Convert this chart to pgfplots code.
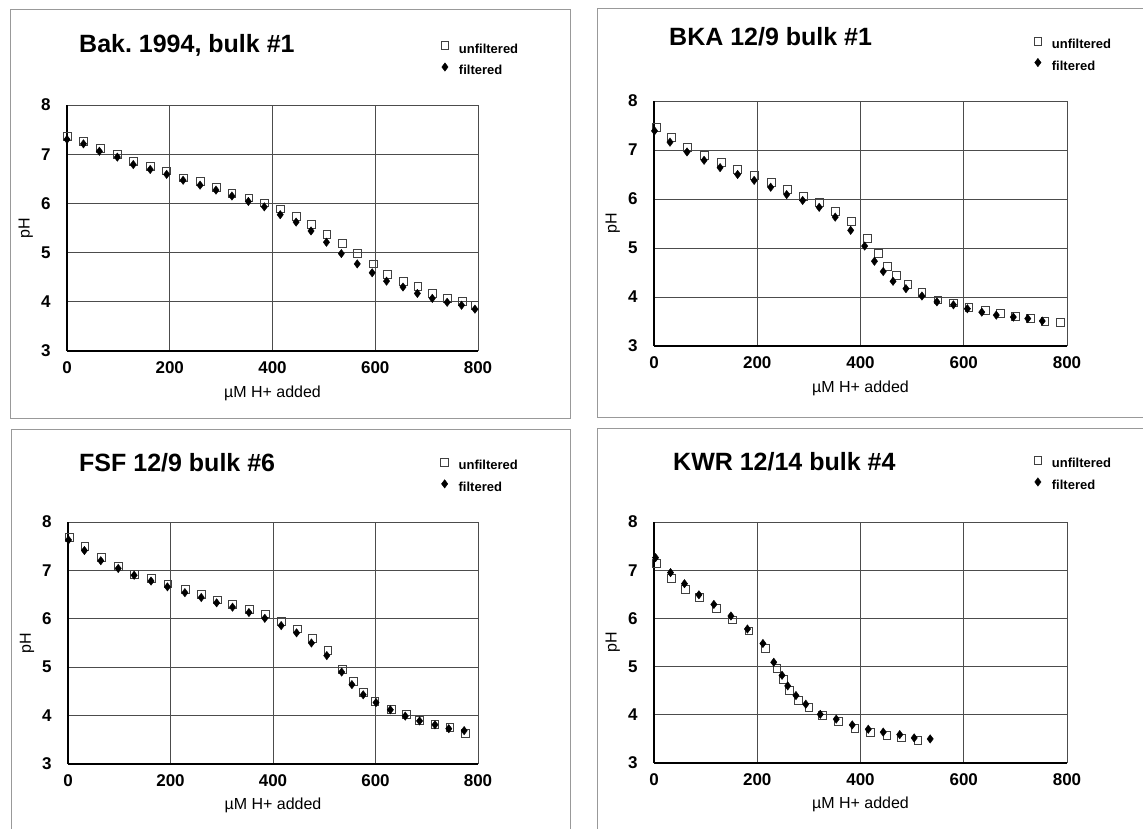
\documentclass[border=0pt]{standalone}
\usepackage{fontspec}
\setmainfont{Liberation Sans}
\usepackage{pgfplots}
\pgfplotsset{compat=1.18}
\frenchspacing

% titration curves: pH against added acid, raw and filtered samples
\pgfplotsset{
  phpanel/.style={
    scale only axis,
    xmin=0, xmax=800, ymin=3, ymax=8,
    xtick={0,200,400,600,800}, ytick={3,4,5,6,7,8},
    axis lines=left,
    axis line style={-, line width=1.6pt, black},
    major tick length=0pt,
    grid=major,
    major grid style={line width=0.9pt, black!70},
    /pgf/number format/assume math mode=true,
    tick label style={font=\fontsize{17}{20}\selectfont\bfseries},
    xticklabel style={yshift=-7pt},
    yticklabel style={xshift=-13pt},
    xlabel={µM H+ added},
    ylabel={pH},
    label style={font=\fontsize{16}{19}\selectfont},
    xlabel style={at={(axis description cs:0.5,-0.19)}, anchor=base},
    ylabel style={at={(axis description cs:-0.1,0.5)}, anchor=center},
    clip=false,
    legend cell align=left,
    legend image code/.code={%
      \path[draw=none, fill=none] (-6pt,-2.5pt) rectangle (6pt,9.5pt);
      \draw[##1] plot coordinates {(0pt,3.5pt)};},
    legend style={draw=none, fill=none, inner sep=0pt, outer sep=0pt,
      font=\fontsize{13}{15}\selectfont\bfseries,
      row sep=6.5pt, column sep=8pt,
      nodes={inner sep=0pt, outer sep=0pt}},
  },
  unf/.style={only marks, mark=square, mark size=3.9pt,
    mark options={line width=0.8pt, draw=black!75}},
  fil/.style={only marks, mark=diamond*, mark size=4.2pt,
    mark options={fill=black, draw=black}},
}

\begin{document}
\begin{tikzpicture}[x=1pt, y=1pt]
\path[use as bounding box] (0pt,0pt) rectangle (1143pt,828pt);
\clip (0pt,0pt) rectangle (1143pt,828pt);

% panel frames
\begin{scope}[draw=black!40, line width=1pt]
\draw (10pt,818pt) rectangle (570pt,409pt);
\draw (597pt,819pt) rectangle (1160pt,410pt);
\draw (11pt,398pt) rectangle (570pt,-10pt);
\draw (597pt,399pt) rectangle (1160pt,-10pt);
\end{scope}

% titles
\begin{scope}[font=\fontsize{25}{30}\selectfont\bfseries]
\node[anchor=base west, inner sep=0pt] at (79pt,775pt) {Bak. 1994, bulk \#1};
\node[anchor=base west, inner sep=0pt] at (669pt,782pt) {BKA 12/9 bulk \#1};
\node[anchor=base west, inner sep=0pt] at (79pt,356pt) {FSF 12/9 bulk \#6};
\node[anchor=base west, inner sep=0pt] at (673pt,357pt) {KWR 12/14 bulk \#4};
\end{scope}

% Bak. 1994, bulk #1
\begin{axis}[phpanel, at={(67pt,477pt)}, anchor=south west, width=411pt, height=246pt,
  legend style={at={(axis description cs:0.905,1.266)}, anchor=north west}]
\addplot[unf] coordinates {
(0,7.36) (32,7.26) (65,7.11) (98,6.99) (130,6.85) (162,6.75) (194,6.66)
(227,6.52) (259,6.44) (291,6.33) (321,6.21) (354,6.11) (384,6.01) (416,5.89)
(446,5.74) (476,5.57) (506,5.37) (536,5.18) (566,4.99) (596,4.77) (624,4.55)
(655,4.42) (683,4.31) (712,4.17) (740,4.07) (769,4.01) (794,3.93)};
\addplot[fil] coordinates {
(0,7.30) (32,7.21) (63,7.06) (98,6.94) (129,6.79) (162,6.69) (194,6.59)
(226,6.47) (259,6.37) (290,6.27) (321,6.15) (353,6.04) (384,5.93) (415,5.77)
(446,5.62) (475,5.44) (505,5.21) (534,4.98) (565,4.77) (594,4.59) (622,4.42)
(654,4.30) (682,4.17) (711,4.07) (740,3.99) (768,3.93) (794,3.85)};
\legend{unfiltered, filtered}
\end{axis}

% BKA 12/9 bulk #1
\begin{axis}[phpanel, at={(654pt,482pt)}, anchor=south west, width=413pt, height=245pt,
  legend style={at={(axis description cs:0.915,1.269)}, anchor=north west}]
\addplot[unf] coordinates {
(4,7.46) (33,7.26) (65,7.06) (98,6.89) (130,6.74) (162,6.60) (195,6.48)
(227,6.34) (259,6.20) (290,6.06) (321,5.93) (352,5.74) (382,5.55) (414,5.19)
(435,4.89) (452,4.62) (470,4.44) (492,4.26) (519,4.10) (550,3.94) (580,3.88)
(610,3.78) (642,3.72) (671,3.66) (700,3.60) (729,3.57) (757,3.51) (787,3.48)};
\addplot[fil] coordinates {
(1,7.39) (31,7.16) (64,6.96) (97,6.79) (128,6.64) (162,6.50) (194,6.38)
(226,6.24) (257,6.09) (288,5.97) (320,5.83) (351,5.63) (381,5.36) (408,5.04)
(427,4.73) (444,4.52) (463,4.32) (488,4.17) (519,4.02) (548,3.90) (580,3.84)
(607,3.76) (635,3.69) (663,3.63) (696,3.59) (724,3.56) (752,3.51)};
\legend{unfiltered, filtered}
\end{axis}

% FSF 12/9 bulk #6
\begin{axis}[phpanel, at={(68pt,64pt)}, anchor=south west, width=410pt, height=242pt,
  legend style={at={(axis description cs:0.904,1.271)}, anchor=north west}]
\addplot[unf] coordinates {
(2,7.69) (33,7.50) (65,7.27) (98,7.08) (130,6.91) (162,6.84) (195,6.72)
(229,6.60) (260,6.50) (291,6.39) (321,6.29) (354,6.20) (385,6.10) (417,5.94)
(448,5.79) (477,5.59) (507,5.34) (536,4.95) (557,4.71) (577,4.48) (599,4.30)
(631,4.12) (660,4.03) (686,3.90) (716,3.82) (745,3.75) (775,3.64)};
\addplot[fil] coordinates {
(1,7.63) (32,7.41) (64,7.20) (98,7.04) (129,6.90) (162,6.78) (194,6.66)
(228,6.54) (260,6.44) (290,6.33) (321,6.24) (353,6.13) (384,6.01) (416,5.86)
(446,5.71) (475,5.50) (505,5.24) (534,4.90) (554,4.64) (576,4.43) (601,4.27)
(629,4.12) (658,3.99) (686,3.89) (716,3.81) (743,3.73) (773,3.69)};
\legend{unfiltered, filtered}
\end{axis}

% KWR 12/14 bulk #4
\begin{axis}[phpanel, at={(654pt,65pt)}, anchor=south west, width=413pt, height=241pt,
  legend style={at={(axis description cs:0.915,1.280)}, anchor=north west}]
\addplot[unf] coordinates {
(4,7.14) (33,6.83) (61,6.61) (88,6.43) (121,6.21) (152,5.97) (184,5.74)
(216,5.38) (238,4.97) (251,4.74) (263,4.51) (280,4.30) (300,4.16) (326,3.98)
(357,3.86) (389,3.72) (419,3.64) (451,3.58) (479,3.52) (511,3.47)};
\addplot[fil] coordinates {
(3,7.26) (32,6.95) (59,6.72) (87,6.49) (116,6.29) (149,6.05) (181,5.78)
(211,5.48) (232,5.09) (248,4.82) (259,4.60) (275,4.40) (294,4.22) (322,4.01)
(353,3.91) (384,3.79) (415,3.70) (444,3.64) (476,3.59) (504,3.52) (535,3.50)};
\legend{unfiltered, filtered}
\end{axis}
\end{tikzpicture}
\end{document}
